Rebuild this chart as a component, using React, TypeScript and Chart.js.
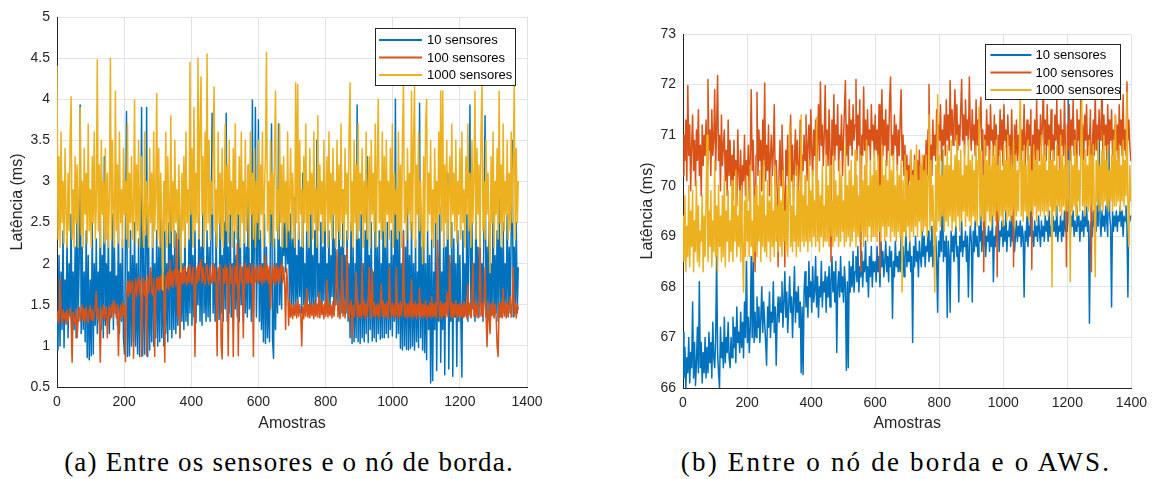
import React, { useEffect, useRef } from "react";
import { Chart, registerables } from "chart.js";

Chart.register(...registerables);

// ---- data -------------------------------------------------------------
// One value every SAMPLE_STEP samples ("Amostras"), 25 values per row.
const SAMPLE_STEP = 3;
const SERIES_LABELS = ["10 sensores", "100 sensores", "1000 sensores"];
const SERIES_COLORS = ["#0072BD", "#D95319", "#EDB120"];

const X_TICKS = [0, 200, 400, 600, 800, 1000, 1200, 1400];
const EDGE_Y_TICKS = [0.5, 1, 1.5, 2, 2.5, 3, 3.5, 4, 4.5, 5];
const AWS_Y_TICKS = [66, 67, 68, 69, 70, 71, 72, 73];

// (a) sensors -> edge node latency (ms)
const EDGE_10 = [
  1.3, 0.95, 2.1, 1.0, 1.9, 1.2, 2.4, 0.98, 1.8, 1.3, 2.3, 1.1, 2.0, 1.4, 2.6, 1.05, 1.9, 1.2, 2.2, 1.1, 2.8, 1.3, 2.0, 3.93, 1.15,
  2.2, 1.2, 1.9, 1.05, 2.4, 0.86, 2.1, 0.83, 1.8, 0.88, 2.5, 0.9, 2.0, 1.25, 2.3, 1.15, 1.9, 1.3, 2.6, 1.2, 2.1, 1.1, 3.3, 1.25, 2.0,
  1.3, 2.4, 1.15, 1.9, 1.35, 2.6, 1.2, 2.2, 1.4, 1.85, 1.25, 2.5, 1.15, 2.0, 1.3, 2.3, 1.1, 0.9, 2.2, 3.85, 0.87, 1.9, 0.88, 2.4, 1.0,
  2.1, 1.05, 2.5, 1.0, 2.0, 0.9, 2.3, 0.87, 1.9, 3.9, 0.88, 2.4, 0.9, 2.1, 3.9, 0.87, 2.2, 0.95, 1.9, 1.05, 2.6, 1.0, 2.0, 1.1, 2.4,
  1.0, 2.2, 1.05, 2.7, 1.1, 1.9, 1.0, 2.4, 1.15, 2.0, 1.05, 2.5, 1.2, 3.2, 1.1, 2.1, 1.2, 2.4, 1.15, 1.9, 1.25, 2.6, 1.1, 2.2, 1.3,
  2.0, 1.2, 2.5, 1.3, 1.9, 1.25, 2.3, 1.4, 2.8, 1.25, 2.1, 1.35, 2.4, 1.28, 1.9, 1.5, 2.6, 1.3, 2.2, 1.25, 3.1, 1.4, 2.0, 1.3, 2.4,
  1.35, 2.2, 1.3, 2.5, 3.83, 1.4, 2.0, 1.3, 2.4, 1.5, 1.9, 1.32, 2.7, 1.4, 2.1, 1.3, 2.5, 1.45, 3.83, 1.3, 2.2, 1.4, 2.6, 1.35, 2.0,
  1.3, 2.4, 1.45, 2.1, 1.35, 2.8, 1.3, 2.3, 1.5, 1.9, 1.3, 2.5, 1.4, 2.2, 1.35, 3.2, 1.45, 2.0, 1.3, 3.99, 1.4, 2.3, 3.9, 1.35, 2.1,
  3.75, 1.3, 2.4, 1.2, 2.0, 1.05, 2.6, 1.03, 2.2, 1.1, 1.9, 1.05, 2.5, 3.7, 1.08, 0.85, 2.3, 1.2, 2.0, 1.4, 3.7, 1.5, 2.2, 1.45, 2.5,
  2.1, 2.5, 1.9, 2.6, 2.0, 2.4, 1.45, 2.6, 1.5, 2.3, 1.4, 2.8, 1.5, 2.1, 1.45, 2.5, 1.6, 2.2, 1.4, 3.1, 1.5, 2.0, 1.42, 2.4, 1.55,
  2.2, 1.45, 2.7, 1.4, 2.1, 1.5, 2.4, 1.42, 3.5, 1.6, 2.0, 1.45, 2.5, 1.4, 2.2, 1.55, 2.8, 1.4, 2.0, 1.5, 2.4, 1.42, 2.1, 1.6, 2.6,
  1.4, 2.3, 1.5, 2.0, 1.42, 2.6, 1.45, 2.2, 1.4, 2.9, 1.5, 2.1, 1.4, 2.4, 1.3, 2.0, 1.1, 2.5, 1.03, 2.2, 1.05, 2.0, 1.1, 3.93, 1.05,
  2.3, 1.03, 2.6, 1.1, 2.0, 1.05, 2.4, 1.15, 3.3, 1.04, 2.1, 1.2, 2.5, 1.06, 1.9, 1.1, 2.7, 1.05, 2.2, 1.15, 2.4, 1.08, 2.0, 1.1, 3.0,
  1.1, 2.2, 1.15, 2.5, 1.1, 2.0, 1.2, 2.4, 1.12, 2.1, 1.3, 4.0, 1.1, 2.3, 1.15, 2.6, 0.97, 2.0, 0.95, 2.4, 1.0, 2.2, 0.96, 2.7, 0.95,
  2.1, 0.97, 2.5, 1.0, 2.0, 0.95, 2.3, 1.05, 1.9, 0.98, 3.95, 1.1, 2.2, 0.95, 2.6, 0.92, 2.0, 0.83, 2.4, 1.2, 2.1, 0.55, 2.3, 0.58, 1.9,
  1.2, 2.5, 0.7, 2.1, 1.3, 2.7, 0.8, 1.9, 1.2, 2.4, 0.65, 2.2, 1.4, 3.1, 0.72, 2.0, 1.3, 2.5, 0.63, 2.3, 1.35, 2.0, 0.75, 2.4, 1.3,
  2.1, 1.3, 0.62, 2.4, 1.35, 2.0, 1.4, 2.6, 1.3, 2.2, 3.93, 1.35, 2.5, 1.45, 2.0, 1.3, 2.8, 1.4, 2.2, 1.35, 2.4, 1.5, 2.0, 1.3, 2.6,
  3.8, 1.35, 2.2, 1.4, 2.5, 1.3, 2.0, 1.45, 2.7, 1.35, 2.1, 1.4, 2.4, 1.3, 3.0, 1.45, 2.2, 1.35, 2.5, 1.4, 2.0, 1.5, 2.6, 1.35, 2.2,
  1.4, 2.4, 3.5, 1.35, 2.2, 1.45, 2.5, 1.4, 1.95,
];

const EDGE_100 = [
  1.31, 1.42, 1.28, 1.83, 1.38, 1.27, 1.44, 1.33, 1.4, 1.26, 1.43, 1.3, 1.37, 1.46, 1.29, 0.8, 1.41, 1.32, 1.27, 1.45, 1.1, 1.34, 1.47, 1.3, 1.4,
  1.5, 1.31, 1.45, 1.29, 1.47, 1.35, 1.28, 1.43, 1.49, 1.32, 1.44, 1.3, 1.4, 1.48, 1.66, 1.33, 1.46, 1.3, 0.8, 1.44, 1.34, 1.5, 1.31, 1.45, 1.47,
  1.1, 1.34, 1.48, 1.33, 1.46, 1.52, 1.35, 1.55, 1.47, 1.34, 1.5, 0.88, 1.37, 1.49, 1.33, 1.53, 1.38, 1.5, 0.81, 1.62, 1.78, 1.6, 1.8, 1.64, 1.77,
  1.79, 0.85, 1.62, 1.81, 1.6, 1.76, 1.84, 1.63, 1.8, 0.87, 1.65, 1.83, 1.61, 1.79, 0.88, 1.85, 1.64, 1.8, 1.95, 1.66, 1.62, 1.82, 0.87, 1.65, 1.83,
  1.68, 1.84, 1.66, 1.85, 1.7, 1.87, 1.67, 0.8, 1.86, 1.7, 1.9, 1.68, 2.04, 1.73, 1.91, 1.71, 1.88, 1.93, 1.74, 2.37, 1.35, 1.92, 1.1, 1.95, 1.76,
  1.94, 1.76, 1.97, 1.78, 1.74, 1.95, 1.77, 1.99, 1.8, 1.75, 1.96, 1.78, 0.87, 1.95, 1.76, 1.98, 1.79, 2.0, 2.05, 1.77, 1.96, 1.8, 1.74, 1.95, 1.99,
  1.79, 1.75, 1.97, 1.8, 1.76, 2.0, 1.78, 1.96, 1.74, 0.88, 1.95, 1.79, 1.99, 1.0, 0.84, 1.94, 1.76, 1.98, 1.78, 1.95, 0.88, 1.8, 2.0, 1.76, 1.96,
  0.87, 1.78, 1.97, 1.75, 2.25, 0.88, 1.8, 1.99, 1.77, 1.96, 1.1, 1.79, 2.01, 1.76, 1.95, 1.75, 1.98, 1.79, 1.76, 2.0, 0.87, 1.95, 1.78, 1.98, 1.8,
  1.76, 1.97, 1.79, 1.99, 1.75, 1.95, 1.78, 2.1, 1.8, 1.98, 1.76, 1.96, 1.45, 1.79, 2.0, 1.77, 1.95, 1.74, 1.98, 1.79, 1.96, 1.76, 1.94, 2.0, 1.77,
  1.96, 1.76, 1.2, 1.94, 1.75, 1.25, 1.55, 1.35, 1.5, 1.33, 1.49, 1.37, 1.52, 1.34, 1.56, 1.36, 1.5, 1.38, 1.0, 1.48, 1.33, 1.53, 1.36, 1.7, 1.35,
  1.5, 1.34, 1.52, 1.37, 1.49, 1.33, 1.55, 1.36, 1.51, 1.35, 1.65, 1.34, 1.55, 1.38, 1.5, 1.33, 1.53, 1.36, 1.8, 1.35, 1.52, 1.37, 1.49, 1.34, 1.54,
  1.36, 1.51, 1.7, 2.17, 1.35, 1.53, 1.33, 1.5, 2.1, 1.36, 1.54, 1.34, 1.49, 2.19, 1.52, 1.33, 1.5, 1.55, 1.1, 1.49, 1.35, 1.52, 1.9, 1.36, 1.53,
  1.35, 1.5, 1.34, 2.0, 1.37, 1.54, 1.33, 1.51, 1.36, 1.52, 1.95, 1.34, 1.5, 1.93, 1.36, 1.53, 1.35, 1.49, 1.37, 1.52, 1.33, 1.5, 1.75, 1.36, 1.54,
  1.34, 1.51, 1.36, 1.53, 1.33, 1.95, 1.5, 1.35, 1.52, 1.37, 1.49, 1.34, 1.95, 1.36, 1.51, 1.33, 1.54, 1.37, 1.5, 2.37, 1.35, 1.52, 1.34, 1.5, 1.36,
  1.53, 1.35, 1.8, 1.34, 1.51, 1.36, 1.54, 1.33, 1.5, 1.37, 1.7, 1.35, 1.52, 1.34, 1.5, 1.36, 1.55, 1.33, 1.49, 1.36, 1.52, 1.34, 1.6, 1.35, 1.51,
  1.36, 1.53, 1.34, 2.29, 1.5, 1.35, 1.54, 1.33, 1.51, 1.37, 1.52, 1.34, 1.65, 1.36, 1.5, 2.1, 1.35, 1.53, 1.34, 1.51, 1.37, 1.55, 1.34, 1.5, 1.36,
  1.52, 1.35, 1.5, 1.34, 1.54, 1.36, 1.51, 1.33, 1.75, 1.37, 1.52, 1.34, 1.5, 2.0, 1.36, 1.53, 1.35, 1.51, 1.34, 1.55, 2.3, 1.36, 1.52, 1.35, 1.5,
  1.95, 1.36, 0.99, 1.52, 1.35, 1.15, 1.51, 1.37, 1.54, 1.34, 1.5, 1.36, 1.0, 0.87, 1.52, 1.35, 1.53, 1.34, 1.7, 1.36, 1.51, 1.34, 1.53, 1.37, 1.5,
  1.6, 1.35, 1.52, 1.95, 1.36, 1.53, 1.34, 1.5, 1.45,
];

const EDGE_1000 = [
  4.4, 2.3, 3.3, 2.2, 3.6, 2.5, 3.0, 2.25, 3.4, 2.6, 2.2, 3.1, 2.4, 3.5, 4.03, 2.3, 2.9, 2.2, 3.3, 2.5, 3.2, 2.2, 2.8, 3.9, 2.35,
  3.0, 2.2, 3.4, 2.6, 3.1, 2.25, 3.7, 2.4, 2.9, 2.2, 3.3, 2.5, 3.6, 2.3, 2.7, 4.48, 2.4, 3.2, 2.2, 3.5, 2.6, 3.0, 2.25, 3.4, 2.3,
  3.1, 2.2, 2.8, 4.5, 2.3, 3.5, 2.6, 2.2, 4.1, 2.4, 3.2, 2.25, 3.6, 2.5, 2.9, 2.2, 3.4, 2.6, 3.0, 2.3, 3.7, 2.2, 3.1, 2.5, 3.3,
  2.3, 2.6, 3.99, 2.25, 3.2, 2.4, 3.5, 2.2, 2.9, 3.3, 2.5, 2.2, 3.6, 2.35, 3.0, 2.6, 2.2, 3.4, 2.5, 3.1, 2.2, 3.6, 2.4, 2.8, 4.07,
  2.3, 3.4, 2.2, 3.1, 2.5, 1.68, 3.0, 2.4, 3.6, 2.2, 3.3, 2.6, 2.25, 3.8, 2.4, 3.0, 2.2, 3.5, 2.5, 2.9, 2.3, 3.2, 2.6, 1.9, 3.1,
  2.4, 3.3, 2.2, 3.6, 2.5, 2.9, 2.3, 4.45, 2.6, 3.4, 2.2, 3.9, 2.4, 3.1, 2.5, 4.5, 2.3, 3.7, 4.27, 2.6, 3.3, 2.2, 3.6, 2.4, 4.55,
  2.5, 3.5, 2.3, 3.0, 2.6, 3.4, 4.15, 2.4, 2.9, 2.2, 3.6, 2.5, 3.1, 2.3, 3.4, 2.2, 2.8, 3.7, 2.4, 3.2, 2.25, 3.5, 2.6, 3.0, 2.2,
  3.4, 2.4, 3.7, 2.3, 2.9, 2.6, 3.3, 2.2, 3.6, 2.5, 3.0, 2.25, 3.5, 2.4, 2.8, 3.2, 2.2, 3.6, 2.6, 3.1, 2.3, 3.4, 2.2, 3.0, 2.5,
  3.5, 2.3, 3.2, 2.6, 3.6, 2.2, 2.9, 3.3, 4.57, 2.4, 3.0, 2.25, 3.5, 2.6, 3.1, 2.2, 3.4, 4.1, 2.4, 2.9, 2.3, 3.7, 2.5, 3.2, 2.2,
  3.3, 2.5, 3.0, 2.2, 3.6, 2.4, 2.8, 3.4, 2.3, 3.1, 2.6, 2.2, 4.2, 2.5, 4.18, 2.3, 3.5, 2.6, 2.9, 2.2, 3.3, 2.5, 3.7, 2.4, 3.0,
  2.2, 3.4, 2.6, 3.1, 2.3, 3.6, 2.5, 2.9, 2.2, 3.8, 2.4, 3.2, 2.6, 3.0, 2.25, 3.5, 2.4, 2.8, 3.3, 2.2, 3.6, 2.5, 3.1, 2.3, 3.4,
  2.6, 3.0, 2.2, 3.5, 2.4, 3.2, 2.3, 3.7, 2.5, 2.9, 2.2, 3.4, 2.6, 3.1, 2.3, 3.6, 4.2, 2.4, 3.0, 2.2, 3.5, 2.5, 3.2, 2.3, 3.7,
  2.4, 3.1, 2.6, 3.4, 2.2, 3.0, 2.5, 3.6, 2.3, 2.9, 3.3, 2.2, 3.5, 2.6, 3.1, 2.4, 3.7, 2.2, 3.2, 4.0, 2.5, 3.0, 2.3, 3.6, 2.4,
  3.3, 2.2, 3.5, 2.6, 3.0, 2.3, 3.4, 2.5, 3.7, 2.2, 3.1, 2.6, 2.9, 2.3, 3.6, 2.4, 3.2, 2.2, 3.5, 4.2, 2.5, 3.0, 2.3, 3.4, 2.6,
  3.1, 2.4, 4.1, 2.3, 3.5, 4.15, 2.2, 3.2, 2.6, 3.6, 2.4, 3.0, 2.5, 2.0, 3.3, 2.2, 3.7, 4.0, 2.4, 3.1, 2.6, 3.5, 2.3, 2.9, 2.2,
  3.4, 2.5, 3.0, 2.3, 3.6, 2.6, 4.1, 2.4, 4.1, 2.2, 3.2, 2.5, 3.5, 2.3, 2.9, 3.3, 2.2, 3.7, 2.6, 3.1, 2.4, 3.5, 2.25, 3.0, 2.6,
  3.4, 2.3, 3.6, 2.5, 2.9, 2.2, 3.3, 2.6, 3.7, 2.4, 3.1, 2.2, 3.5, 2.5, 3.0, 4.1, 2.3, 3.4, 2.6, 3.2, 2.2, 3.6, 4.2, 2.4, 3.0,
  2.3, 3.5, 2.6, 3.1, 2.4, 1.89, 3.3, 2.5, 3.6, 2.2, 3.0, 2.6, 3.4, 2.3, 4.1, 2.5, 3.2, 2.2, 3.7, 2.4, 3.0, 2.6, 3.5, 2.3, 3.1,
  2.4, 3.6, 2.5, 3.2, 4.2, 2.3, 3.4, 2.5, 3.0,
];

// (b) edge node -> AWS latency (ms)
const AWS_10 = [
  67.1, 66.2, 66.8, 66.0, 66.6, 66.3, 67.0, 66.1, 66.7, 66.4, 67.7, 66.2, 66.9, 66.05, 66.5, 67.2, 66.3, 68.1, 66.4, 66.9, 66.1, 66.7, 66.3, 67.0, 66.2,
  66.8, 66.3, 67.1, 66.5, 66.9, 66.2, 67.3, 66.6, 66.4, 67.0, 68.6, 66.7, 66.3, 66.0, 67.2, 66.6, 66.9, 66.4, 67.4, 66.5, 67.0, 66.7, 67.3, 66.6, 66.4,
  67.0, 66.6, 67.4, 66.8, 67.2, 66.5, 67.6, 66.9, 67.1, 66.7, 67.5, 66.8, 67.3, 66.6, 67.7, 67.0, 68.5, 66.9, 67.4, 66.7, 67.2, 68.6, 67.0, 68.6, 66.9,
  67.5, 67.0, 67.8, 67.2, 67.6, 66.9, 67.4, 68.0, 67.1, 67.7, 67.3, 66.9, 66.45, 67.6, 67.2, 67.9, 67.0, 67.5, 67.3, 68.1, 67.1, 67.6, 66.45, 67.4, 67.8,
  67.3, 67.8, 67.5, 68.1, 67.2, 67.7, 68.3, 67.4, 67.9, 67.1, 67.6, 68.2, 67.5, 67.8, 67.0, 67.7, 68.4, 67.3, 67.9, 67.5, 68.0, 67.2, 67.7, 66.3, 67.6,
  66.26, 67.9, 68.3, 67.6, 68.0, 67.4, 68.5, 67.8, 68.1, 67.5, 68.4, 67.7, 67.9, 68.6, 67.6, 68.2, 67.4, 68.0, 67.8, 68.5, 67.6, 68.1, 67.9, 68.3, 67.5,
  68.2, 67.8, 68.4, 67.6, 68.1, 68.6, 67.9, 68.3, 67.7, 68.5, 66.7, 68.0, 68.3, 67.8, 68.6, 67.9, 68.2, 67.7, 68.4, 68.0, 66.35, 68.1, 66.4, 68.5, 67.9,
  68.4, 68.0, 68.7, 67.9, 68.3, 68.6, 68.1, 68.8, 67.9, 68.4, 68.2, 68.7, 68.0, 68.5, 68.3, 68.9, 68.1, 68.4, 67.8, 68.6, 68.2, 68.8, 68.0, 68.5, 68.3,
  68.5, 68.1, 68.8, 68.3, 68.6, 68.0, 68.9, 68.4, 68.7, 68.2, 68.5, 68.9, 68.3, 68.6, 68.1, 68.8, 68.4, 68.7, 67.38, 68.5, 68.2, 68.9, 68.4, 68.6, 68.3,
  68.7, 68.3, 69.0, 68.5, 68.8, 68.2, 68.6, 69.1, 68.4, 68.7, 68.5, 68.9, 68.3, 68.6, 66.9, 68.8, 68.4, 69.0, 68.5, 68.7, 68.2, 68.9, 68.6, 68.4, 69.1,
  68.6, 69.0, 68.4, 68.8, 68.7, 69.1, 68.5, 68.9, 68.6, 69.2, 68.4, 68.8, 68.7, 69.0, 68.5, 67.5, 68.9, 68.6, 69.1, 68.7, 70.7, 68.5, 68.9, 68.6, 69.0,
  67.4, 68.9, 68.6, 67.5, 69.1, 68.7, 69.0, 68.5, 68.9, 69.2, 68.6, 68.8, 67.7, 69.0, 68.7, 69.3, 68.6, 68.9, 68.8, 69.1, 68.5, 69.0, 67.8, 68.8, 69.2,
  68.9, 67.7, 69.1, 68.7, 69.3, 68.8, 69.0, 68.6, 69.2, 68.9, 69.4, 68.7, 69.1, 68.8, 69.3, 68.6, 69.0, 68.9, 69.2, 68.7, 69.1, 68.8, 69.4, 68.1, 69.0,
  68.8, 69.2, 68.9, 69.4, 68.7, 69.1, 69.0, 69.3, 68.8, 69.2, 68.9, 69.5, 68.7, 69.1, 69.0, 69.3, 68.8, 69.4, 68.9, 69.2, 68.7, 69.0, 69.3, 68.9, 69.2,
  69.0, 69.3, 68.8, 69.2, 69.0, 67.8, 69.1, 68.9, 69.4, 68.8, 69.2, 69.0, 69.5, 68.9, 69.1, 68.8, 69.3, 69.0, 69.2, 68.9, 69.4, 69.1, 68.8, 69.3, 69.0,
  69.2, 68.9, 69.4, 69.1, 69.3, 68.9, 69.5, 69.0, 69.2, 68.8, 69.4, 69.1, 69.3, 69.0, 69.6, 68.9, 69.2, 69.1, 69.4, 68.9, 69.3, 69.0, 69.5, 69.1, 69.2,
  69.1, 71.7, 69.3, 69.0, 69.4, 69.2, 69.5, 69.0, 69.3, 69.1, 69.6, 69.2, 69.4, 68.9, 69.3, 69.1, 69.5, 69.0, 69.4, 69.2, 69.6, 69.1, 69.3, 67.28, 69.2,
  69.3, 69.0, 69.5, 69.2, 69.4, 69.1, 69.6, 69.2, 71.3, 69.3, 69.0, 69.5, 69.2, 69.4, 69.1, 69.6, 69.3, 69.0, 71.3, 69.4, 69.2, 67.6, 69.5, 69.1, 69.4,
  69.2, 69.5, 69.1, 69.4, 69.3, 69.6, 69.2, 69.5, 69.0, 69.4, 69.3, 69.6, 69.2, 67.8, 69.5, 69.3, 69.4,
];

const AWS_100 = [
  70.2, 71.0, 70.5, 71.3, 70.1, 71.98, 70.6, 71.2, 69.9, 70.8, 71.4, 70.3, 70.9, 70.0, 71.1, 70.5, 71.5, 70.2, 70.8, 69.8, 71.2, 70.4, 71.0, 70.6, 71.3,
  70.4, 72.1, 70.7, 71.1, 70.2, 71.5, 70.6, 70.9, 71.9, 70.3, 71.2, 72.18, 70.5, 71.0, 69.9, 71.4, 70.4, 70.8, 71.1, 70.1, 70.7, 69.8, 71.3, 70.2, 70.9,
  70.0, 70.6, 69.7, 70.9, 70.2, 70.5, 69.6, 71.1, 70.3, 69.9, 70.7, 69.5, 70.4, 70.1, 71.0, 69.8, 70.5, 70.2, 70.8, 69.7, 70.6, 71.9, 70.3, 70.9, 70.0,
  68.3, 70.6, 71.85, 70.2, 71.1, 70.5, 70.9, 69.9, 71.3, 70.4, 72.03, 70.1, 70.8, 70.3, 71.2, 69.8, 70.6, 71.0, 70.2, 70.7, 71.6, 70.0, 70.5, 69.9, 68.4,
  70.3, 70.9, 70.0, 71.2, 70.4, 69.8, 68.4, 70.7, 70.2, 71.0, 69.9, 70.6, 71.4, 70.1, 70.8, 69.7, 70.5, 71.1, 70.2, 70.9, 69.8, 70.4, 71.3, 70.0, 70.6,
  70.3, 71.0, 70.5, 71.4, 70.1, 70.8, 71.2, 70.4, 71.5, 70.7, 70.2, 71.1, 70.6, 71.3, 70.0, 70.9, 71.6, 70.5, 72.05, 70.8, 71.2, 70.4, 71.0, 71.98, 70.6,
  71.1, 70.4, 71.5, 70.7, 68.5, 71.3, 70.6, 71.8, 70.5, 71.2, 70.8, 71.6, 70.3, 71.0, 70.7, 71.4, 70.2, 70.9, 71.5, 72.08, 70.6, 71.2, 70.4, 71.7, 70.8,
  71.3, 70.6, 71.6, 70.9, 71.2, 72.1, 70.5, 71.4, 70.8, 71.7, 68.3, 71.0, 70.6, 71.95, 70.7, 71.3, 70.4, 71.5, 70.8, 71.1, 70.5, 71.6, 70.9, 71.2, 70.6,
  71.4, 70.7, 71.1, 70.5, 71.6, 68.27, 70.9, 71.9, 70.6, 71.3, 70.8, 71.5, 70.4, 71.2, 70.7, 71.7, 72.15, 70.6, 71.0, 70.5, 71.4, 70.8, 71.2, 70.3, 71.1,
  70.6, 71.3, 71.9, 70.5, 71.0, 70.2, 70.8, 70.0, 70.6, 69.8, 70.4, 70.1, 70.7, 69.7, 70.3, 70.0, 70.6, 69.6, 70.2, 70.5, 69.9, 70.7, 70.1, 70.4, 69.8,
  70.3, 70.6, 70.0, 70.9, 70.2, 71.1, 72.0, 70.4, 70.8, 70.2, 71.3, 70.6, 71.0, 70.5, 71.5, 70.7, 71.2, 70.9, 71.6, 70.5, 71.1, 70.8, 71.4, 70.6, 71.7,
  70.9, 71.4, 70.7, 72.08, 71.0, 71.5, 70.8, 71.3, 71.9, 70.9, 71.6, 70.7, 71.2, 70.8, 71.5, 72.1, 70.9, 71.4, 70.6, 71.7, 71.0, 71.3, 70.8, 72.15, 71.1,
  70.7, 71.5, 70.9, 71.2, 70.6, 71.7, 70.8, 71.3, 70.5, 71.4, 71.75, 70.7, 71.1, 68.3, 71.0, 70.6, 71.5, 70.8, 71.2, 70.4, 71.6, 70.9, 71.1, 70.6, 71.4,
  70.8, 71.2, 68.2, 71.0, 70.6, 71.5, 70.7, 71.3, 70.4, 71.6, 70.9, 71.1, 70.5, 71.4, 70.8, 71.0, 70.3, 71.5, 70.7, 68.4, 71.2, 70.6, 71.3, 70.5, 71.0,
  70.6, 71.4, 70.3, 71.1, 70.7, 71.6, 70.4, 70.9, 71.3, 70.5, 71.2, 70.8, 71.5, 68.35, 71.0, 70.6, 71.3, 70.4, 71.7, 70.7, 71.1, 70.5, 71.4, 70.8, 71.2,
  72.0, 70.6, 71.3, 70.5, 71.6, 70.8, 71.2, 70.4, 71.5, 70.7, 71.0, 70.5, 71.4, 70.9, 71.7, 70.6, 71.2, 70.3, 71.5, 70.8, 71.1, 70.6, 71.8, 70.7, 68.4,
  71.2, 70.7, 71.6, 70.5, 71.3, 70.8, 71.7, 70.6, 71.1, 70.4, 71.5, 70.9, 71.3, 70.6, 71.8, 70.7, 71.2, 70.5, 71.4, 70.9, 71.6, 70.6, 71.0, 70.8, 71.5,
  68.3, 70.8, 71.3, 70.6, 71.9, 70.7, 71.2, 70.5, 71.5, 70.9, 71.1, 72.0, 70.6, 71.4, 70.8, 71.2, 70.5, 71.6, 70.7, 71.3, 70.9, 71.5, 70.6, 71.1, 70.8,
  71.4, 70.7, 71.2, 70.5, 71.6, 70.8, 71.3, 70.6, 71.8, 70.7, 71.1, 70.6, 72.05, 70.9, 71.3, 70.8, 70.5,
];

const AWS_1000 = [
  69.4, 68.5, 69.8, 68.3, 69.2, 68.6, 70.0, 68.4, 69.5, 68.8, 69.9, 68.3, 69.3, 68.7, 70.1, 68.5, 69.6, 68.4, 69.1, 68.9, 69.8, 68.3, 69.4, 68.6, 69.7,
  71.0, 68.5, 69.5, 68.8, 69.9, 68.4, 69.3, 68.7, 70.5, 68.6, 69.6, 68.3, 70.0, 68.8, 69.4, 68.5, 69.8, 68.6, 70.2, 68.4, 69.5, 68.9, 69.9, 68.5, 69.3,
  68.7, 70.1, 68.5, 69.6, 68.9, 70.3, 68.6, 69.4, 68.8, 69.9, 68.5, 70.0, 68.7, 67.9, 69.7, 68.6, 70.2, 68.9, 69.5, 68.6, 70.4, 68.8, 69.3, 68.5, 69.8,
  68.7, 70.0, 68.6, 69.6, 68.9, 70.3, 68.5, 69.8, 68.8, 70.5, 68.7, 69.4, 68.6, 70.1, 68.9, 69.7, 68.5, 70.2, 68.8, 69.5, 68.6, 70.4, 68.9, 69.6, 68.7,
  70.1, 68.8, 69.7, 68.6, 70.3, 68.9, 69.5, 68.7, 70.0, 68.6, 69.8, 71.2, 68.8, 69.6, 68.7, 70.2, 68.9, 69.4, 68.6, 70.4, 68.8, 69.9, 68.7, 71.4, 68.9,
  69.8, 68.8, 70.2, 68.9, 69.6, 68.7, 70.5, 68.9, 69.9, 68.8, 70.3, 69.0, 69.7, 68.8, 71.35, 68.9, 70.1, 68.7, 69.8, 69.0, 70.4, 68.8, 69.6, 68.9, 70.6,
  68.9, 70.0, 68.8, 70.4, 69.0, 69.7, 68.8, 70.6, 68.9, 70.1, 69.0, 69.8, 68.8, 70.5, 68.9, 70.2, 69.1, 69.7, 68.8, 70.8, 68.9, 70.0, 69.0, 70.3, 68.8,
  70.5, 68.9, 70.0, 69.1, 70.7, 68.8, 70.2, 69.0, 69.8, 68.9, 70.6, 69.1, 70.1, 68.8, 70.4, 69.0, 70.9, 68.9, 70.0, 69.2, 70.5, 68.9, 70.2, 69.0, 70.7,
  69.0, 70.3, 68.9, 70.6, 69.1, 70.0, 68.9, 70.8, 69.2, 70.2, 68.9, 70.5, 69.0, 70.1, 69.2, 70.7, 68.9, 70.3, 69.1, 70.6, 69.0, 70.0, 68.9, 70.4, 69.1,
  70.2, 69.0, 70.5, 67.9, 70.1, 69.1, 70.6, 69.0, 70.3, 69.2, 70.0, 68.9, 70.7, 69.1, 70.2, 69.0, 70.5, 69.2, 70.8, 69.0, 70.1, 69.3, 70.4, 69.0, 70.6,
  69.1, 70.3, 69.2, 70.6, 69.0, 70.2, 71.4, 69.1, 70.5, 69.3, 70.0, 69.2, 67.9, 70.4, 69.1, 71.8, 69.3, 70.6, 69.2, 70.2, 69.4, 70.7, 69.1, 70.4, 69.3,
  70.8, 69.2, 70.4, 69.4, 70.9, 69.1, 70.3, 69.3, 70.6, 69.2, 71.0, 69.4, 70.5, 69.1, 70.7, 69.3, 70.2, 69.5, 70.8, 69.2, 70.4, 69.4, 70.9, 69.3, 70.5,
  69.2, 70.6, 69.4, 70.3, 69.3, 70.8, 69.2, 70.5, 71.55, 69.3, 70.7, 69.4, 70.2, 69.3, 70.9, 69.2, 70.5, 69.5, 70.7, 69.3, 70.4, 69.2, 70.8, 69.4, 70.6,
  69.3, 70.9, 69.5, 70.4, 69.3, 70.7, 69.4, 70.3, 69.2, 70.8, 69.5, 70.5, 69.3, 71.0, 69.4, 70.6, 69.3, 70.4, 69.5, 70.9, 69.2, 70.6, 69.4, 70.3, 69.5,
  70.7, 71.95, 69.4, 70.5, 69.3, 70.8, 69.5, 70.4, 69.4, 70.9, 69.3, 70.6, 69.5, 70.3, 69.4, 70.8, 69.6, 70.5, 69.3, 70.7, 69.5, 70.4, 69.4, 71.0, 69.5,
  70.6, 69.4, 70.8, 69.5, 70.3, 69.4, 70.9, 69.6, 70.5, 68.0, 70.7, 69.5, 70.4, 69.4, 70.8, 69.6, 70.3, 69.5, 71.0, 69.4, 70.6, 69.6, 70.4, 69.5, 70.8,
  69.5, 70.5, 69.6, 68.1, 70.7, 69.5, 70.4, 69.6, 70.9, 69.4, 70.6, 69.7, 70.3, 69.5, 70.8, 71.8, 69.6, 70.5, 69.4, 70.7, 69.6, 70.4, 69.5, 70.9, 69.6,
  70.6, 69.5, 70.8, 69.6, 68.2, 70.5, 69.7, 70.9, 69.5, 70.4, 69.6, 70.7, 69.5, 71.0, 69.7, 70.5, 69.6, 70.8, 69.5, 70.3, 69.7, 70.6, 69.5, 70.9, 69.6,
  71.4, 69.6, 70.5, 69.7, 70.8, 69.5, 70.4, 69.7, 70.9, 69.6, 70.5, 69.8, 71.85, 69.6, 68.8, 70.4, 69.7,
];

// ---- helpers ------------------------------------------------------------
const TICK_COLOR = "#262626";
const GRID_COLOR = "#e3e3e3";
const SANS = '"Liberation Sans", Arial, Helvetica, sans-serif';

const toPoints = (values: number[]) =>
  values.map((v, i) => ({ x: i * SAMPLE_STEP, y: v }));

// Boxed legend drawn inside the plot area, top-right corner.
const boxLegend = {
  id: "boxLegend",
  afterDatasetsDraw(chart: any, _args: any, opts: any) {
    const { ctx, chartArea } = chart;
    const right = chartArea.right - opts.offsetRight;
    const left = right - opts.width;
    const top = chartArea.top + opts.offsetTop;
    ctx.save();
    ctx.fillStyle = "#ffffff";
    ctx.fillRect(left, top, opts.width, opts.height);
    ctx.strokeStyle = "#262626";
    ctx.lineWidth = 1;
    ctx.strokeRect(Math.round(left) + 0.5, Math.round(top) + 0.5, opts.width, opts.height);
    ctx.font = `13px ${SANS}`;
    ctx.textBaseline = "middle";
    ctx.textAlign = "left";
    chart.data.datasets.forEach((ds: any, i: number) => {
      const y = top + opts.firstRow + i * opts.rowGap;
      ctx.strokeStyle = ds.borderColor;
      ctx.lineWidth = 2;
      ctx.beginPath();
      ctx.moveTo(left + opts.lineStart, y);
      ctx.lineTo(left + opts.lineEnd, y);
      ctx.stroke();
      ctx.fillStyle = "#000000";
      ctx.fillText(ds.label, left + opts.textStart, y + 0.5);
    });
    ctx.restore();
  },
};

type PanelProps = {
  left: number;
  width: number;
  height: number;
  series: number[][];
  yTicks: number[];
  yAxisWidth: number;
  xAxisHeight: number;
  padTop: number;
  padRight: number;
  yTitlePad: number;
  legend: any;
};

function Panel(p: PanelProps) {
  const ref = useRef<HTMLCanvasElement | null>(null);

  useEffect(() => {
    if (!ref.current) return;
    const datasets = p.series.map((vals, i) => ({
      label: SERIES_LABELS[i],
      data: toPoints(vals),
      borderColor: SERIES_COLORS[i],
      backgroundColor: SERIES_COLORS[i],
      borderWidth: 1.5,
      borderJoinStyle: "round",
      borderCapStyle: "round",
      pointRadius: 0,
      tension: 0,
      fill: false,
      // later series are drawn on top
      order: SERIES_LABELS.length - i,
    }));
    const yMin = p.yTicks[0];
    const yMax = p.yTicks[p.yTicks.length - 1];
    const plainLabel = (v: any) => String(v);

    const chart = new Chart(ref.current, {
      type: "line",
      data: { datasets },
      plugins: [boxLegend],
      options: {
        animation: false,
        responsive: false,
        events: [],
        layout: { padding: { top: p.padTop, right: p.padRight, left: 0, bottom: 0 } },
        plugins: {
          legend: { display: false },
          tooltip: { enabled: false },
          boxLegend: p.legend,
        } as any,
        scales: {
          x: {
            type: "linear",
            min: X_TICKS[0],
            max: X_TICKS[X_TICKS.length - 1],
            afterBuildTicks: (s: any) => {
              s.ticks = X_TICKS.map((v) => ({ value: v }));
            },
            afterFit: (s: any) => {
              s.height = p.xAxisHeight;
            },
            grid: { color: GRID_COLOR, drawTicks: false, lineWidth: 1 },
            border: { color: TICK_COLOR, width: 1 },
            ticks: {
              color: TICK_COLOR,
              font: { family: SANS, size: 14 },
              padding: 7,
              maxRotation: 0,
              autoSkip: false,
              callback: plainLabel,
            },
            title: {
              display: true,
              text: "Amostras",
              color: TICK_COLOR,
              font: { family: SANS, size: 16 },
              padding: { top: 0, bottom: 7 },
            },
          },
          y: {
            type: "linear",
            min: yMin,
            max: yMax,
            afterBuildTicks: (s: any) => {
              s.ticks = p.yTicks.map((v) => ({ value: v }));
            },
            afterFit: (s: any) => {
              s.width = p.yAxisWidth;
            },
            grid: { color: GRID_COLOR, drawTicks: false, lineWidth: 1 },
            border: { color: TICK_COLOR, width: 1 },
            ticks: {
              color: TICK_COLOR,
              font: { family: SANS, size: 14 },
              padding: 7,
              autoSkip: false,
              callback: plainLabel,
            },
            title: {
              display: true,
              text: "Latência (ms)",
              color: TICK_COLOR,
              font: { family: SANS, size: 16 },
              padding: { top: p.yTitlePad, bottom: 0 },
            },
          },
        },
      } as any,
    });
    return () => chart.destroy();
  }, []);

  return (
    <canvas
      ref={ref}
      width={p.width}
      height={p.height}
      style={{ position: "absolute", left: p.left, top: 0, width: p.width, height: p.height }}
    />
  );
}

const captionStyle: React.CSSProperties = {
  position: "absolute",
  top: 446,
  width: 600,
  textAlign: "center",
  fontFamily: '"Liberation Serif", "Times New Roman", serif',
  fontSize: 27,
  lineHeight: "32px",
  color: "#000",
  whiteSpace: "nowrap",
};

export default function App() {
  return (
    <div style={{ position: "absolute", left: 0, top: 0, width: 1154, height: 479, background: "#fff", overflow: "hidden" }}>
      <Panel
        left={0}
        width={560}
        height={440}
        series={[EDGE_10, EDGE_100, EDGE_1000]}
        yTicks={EDGE_Y_TICKS}
        yAxisWidth={57}
        xAxisHeight={53}
        padTop={17}
        padRight={33}
        yTitlePad={8}
        legend={{ offsetRight: 12, offsetTop: 11, width: 140, height: 57, firstRow: 12, rowGap: 17.5, lineStart: 4, lineEnd: 47, textStart: 52 }}
      />
      <Panel
        left={620}
        width={534}
        height={440}
        series={[AWS_10, AWS_100, AWS_1000]}
        yTicks={AWS_Y_TICKS}
        yAxisWidth={63}
        xAxisHeight={52}
        padTop={34}
        padRight={21}
        yTitlePad={18}
        legend={{ offsetRight: 11, offsetTop: 10, width: 135, height: 55, firstRow: 11, rowGap: 17.5, lineStart: 5, lineEnd: 46, textStart: 50 }}
      />
      <div style={{ ...captionStyle, left: -11, letterSpacing: "1.2px" }}>(a) Entre os sensores e o nó de borda.</div>
      <div style={{ ...captionStyle, left: 596, letterSpacing: "2.2px" }}>(b) Entre o nó de borda e o AWS.</div>
    </div>
  );
}
